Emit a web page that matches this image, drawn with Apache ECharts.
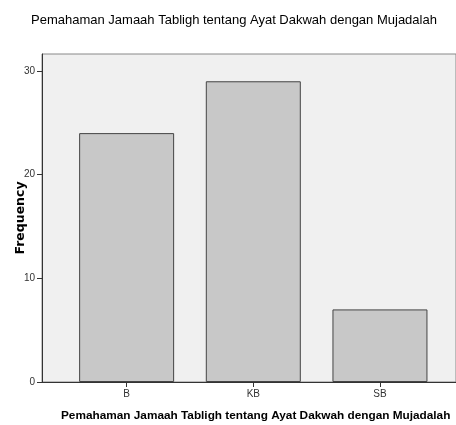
<!DOCTYPE html>
<html><head><meta charset="utf-8">
<script src="https://cdn.jsdelivr.net/npm/echarts@6/dist/echarts.min.js"></script>
<style>html,body{margin:0;padding:0;background:#fff}#c{width:456px;height:425px}</style>
</head><body><div id="c"></div>
<script>
const categories = ['B', 'KB', 'SB'];
const frequency = [24, 29, 7];
const yTicks = [0, 10, 20, 30];
const titleText = 'Pemahaman Jamaah Tabligh tentang Ayat Dakwah dengan Mujadalah';
const xTitle = 'Pemahaman Jamaah Tabligh tentang Ayat Dakwah dengan Mujadalah';
const yTitle = 'Frequency';

const FONT = '"Liberation Sans", Arial, sans-serif';
const chart = echarts.init(document.getElementById('c'), null, {renderer: 'canvas'});
const yMax = 31.63;
chart.setOption({
  animation: false,
  backgroundColor: '#ffffff',
  title: [
    {text: titleText, left: 26, top: 9,
     textStyle: {fontFamily: FONT, fontSize: 13, fontWeight: 'normal', color: '#000'}},
    {text: xTitle, left: 56, top: 405,
     textStyle: {fontFamily: FONT, fontSize: 11.8, fontWeight: 'bold', color: '#000'}}
  ],
  grid: [
    {left: 42, right: 0, top: 54, bottom: 43, show: true, backgroundColor: '#f0f0f0', borderColor: '#888', borderWidth: 1,
     outerBoundsMode: 'none', containLabel: false},
    {left: 63.3, width: 380, top: 54, bottom: 43, outerBoundsMode: 'none', containLabel: false}
  ],
  xAxis: [
    {gridIndex: 0, type: 'value', min: 0, max: 1, axisLine: {show: true, lineStyle: {color: '#333', width: 1}},
     axisTick: {show: false}, axisLabel: {show: false}, splitLine: {show: false}},
    {gridIndex: 1, type: 'category', data: categories, axisLine: {show: false},
     axisTick: {show: true, alignWithLabel: true, length: 5, lineStyle: {color: '#333'}},
     axisLabel: {fontFamily: FONT, fontSize: 10, color: '#333', margin: 7}}
  ],
  yAxis: [
    {gridIndex: 0, type: 'value', min: 0, max: yMax,
     axisLine: {show: true, lineStyle: {color: '#333', width: 1}},
     axisTick: {show: true, length: 5, customValues: yTicks, lineStyle: {color: '#333'}},
     axisLabel: {customValues: yTicks, fontFamily: FONT, fontSize: 10, color: '#333', margin: 7},
     splitLine: {show: false},
     name: yTitle, nameLocation: 'middle', nameGap: 15, nameRotate: 90, nameMoveOverlap: false,
     nameTextStyle: {fontFamily: '"DejaVu Sans", Arial, sans-serif', fontSize: 12.5, fontWeight: 'bold', color: '#000'}},
    {gridIndex: 1, type: 'value', min: 0, max: yMax, show: false}
  ],
  series: [{
    type: 'bar', xAxisIndex: 1, yAxisIndex: 1, data: frequency, barWidth: 95,
    itemStyle: {color: '#c8c8c8', borderColor: '#444', borderWidth: 1}
  }]
});
</script></body></html>
